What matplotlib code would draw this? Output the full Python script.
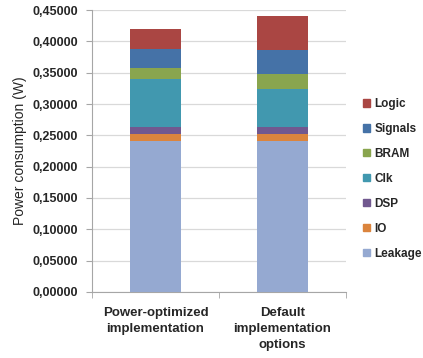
import numpy as np
import matplotlib
matplotlib.use("Agg")
import matplotlib.pyplot as plt
from matplotlib.ticker import FuncFormatter
from matplotlib.patches import Patch

# data (W)
categories = ["Power-optimized\nimplementation", "Default\nimplementation\noptions"]
components = ["Leakage", "IO", "DSP", "Clk", "BRAM", "Signals", "Logic"]
leakage = [0.2410, 0.2410]
io = [0.0117, 0.0117]
dsp = [0.0111, 0.0111]
clk = [0.0756, 0.0601]
bram = [0.0188, 0.0234]
signals = [0.0290, 0.0383]
logic = [0.0325, 0.0548]

colors = ["#95A9D1", "#DB843D", "#71588F", "#4198AF", "#89A54E", "#4572A7", "#AA4643"]

plt.rcParams['font.family'] = ['Liberation Sans', 'DejaVu Sans']

fig = plt.figure(figsize=(4.23, 3.58), dpi=100)
ax = fig.add_axes([0.2175, 0.1844, 0.6005, 0.7876])

x = np.arange(len(categories))
bottom = np.zeros(len(categories))
series = [leakage, io, dsp, clk, bram, signals, logic]
for vals, col in zip(series, colors):
    ax.bar(x, vals, 0.4, bottom=bottom, color=col, zorder=3)
    bottom += np.array(vals)

ax.set_xlim(-0.5, 1.5)
ax.set_ylim(0, 0.45)
ax.set_yticks(np.arange(0, 0.4501, 0.05))
ax.yaxis.set_major_formatter(FuncFormatter(lambda v, p: f"{v:.5f}".replace(".", ",")))
ax.grid(axis="y", color="#D9D9D9", linewidth=0.9, zorder=0)

ax.set_xticks(x)
ax.set_xticklabels(categories, fontsize=9.5, fontweight="bold", color="#262626",
                   linespacing=1.45)
ax.set_xticks([-0.5, 0.5, 1.5], minor=True)
ax.tick_params(axis="x", which="major", length=0, pad=11)
ax.tick_params(axis="x", which="minor", length=4, color="#A6A6A6", direction="out")
ax.tick_params(axis="y", length=4, color="#A6A6A6", labelsize=9, labelcolor="#262626", pad=6)
for lbl in ax.get_yticklabels():
    lbl.set_fontweight("bold")

for s in ["top", "right"]:
    ax.spines[s].set_visible(False)
ax.spines["left"].set_color("#A6A6A6")
ax.spines["bottom"].set_color("#A6A6A6")

ax.set_ylabel("Power consumption (W)", fontsize=10, color="#262626", labelpad=4)

handles = [Patch(color=c, label=n) for c, n in zip(colors, components)][::-1]
leg = fig.legend(handles=handles, loc="upper left", bbox_to_anchor=(0.857, 0.727),
                 frameon=False, fontsize=8.5, handlelength=0.65, handleheight=0.65,
                 handletextpad=0.35, labelspacing=1.1, borderaxespad=0, borderpad=0)
for t in leg.get_texts():
    t.set_fontweight("bold")
    t.set_color("#262626")

fig.savefig("out.png", dpi=100)
